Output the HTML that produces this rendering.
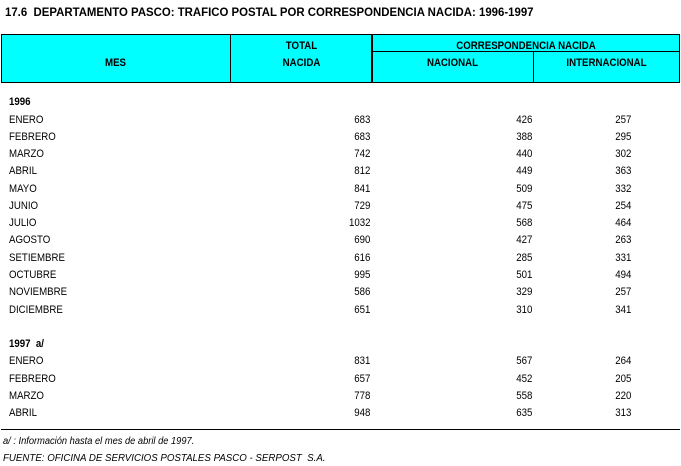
<!DOCTYPE html>
<html><head><meta charset="utf-8"><style>
body{margin:0;width:681px;height:465px;background:#fff;position:relative;overflow:hidden;font-family:"Liberation Sans",Arial,sans-serif;color:#000}
.t{position:absolute;white-space:nowrap;font-size:11px;line-height:14px;transform:scaleX(.88);transform-origin:left center}
.r{transform-origin:right center}
.c{transform-origin:center center}
.b{font-weight:bold}
.i{font-style:italic;font-size:10px}
.ln{position:absolute;background:#000}
</style></head><body>
<div class="t b" style="left:5px;top:5px;font-size:12px;transform:scaleX(.95)">17.6&nbsp; DEPARTAMENTO PASCO: TRAFICO POSTAL POR CORRESPONDENCIA NACIDA: 1996-1997</div>
<div style="position:absolute;left:1px;top:34px;width:677px;height:47px;background:#00ffff;border:1px solid #000"></div>
<div class="ln" style="left:230px;top:34px;width:1px;height:49px"></div>
<div class="ln" style="left:371px;top:34px;width:2px;height:49px"></div>
<div class="ln" style="left:533px;top:51px;width:1px;height:32px"></div>
<div class="ln" style="left:372px;top:51px;width:308px;height:1px"></div>
<div class="t b c" style="left:0;width:231px;text-align:center;top:56px">MES</div>
<div class="t b c" style="left:231px;width:141px;text-align:center;top:39px">TOTAL</div>
<div class="t b c" style="left:231px;width:141px;text-align:center;top:56px">NACIDA</div>
<div class="t b c" style="left:372px;width:308px;text-align:center;top:39px">CORRESPONDENCIA NACIDA</div>
<div class="t b c" style="left:372px;width:161px;text-align:center;top:56px">NACIONAL</div>
<div class="t b c" style="left:533px;width:147px;text-align:center;top:56px">INTERNACIONAL</div>
<div id="rows"></div>
<div class="ln" style="left:1px;top:429px;width:679px;height:1px"></div>
<div class="t i" style="left:3px;top:435px;transform:scaleX(.93)">a/ : Información hasta el mes de abril de 1997.</div>
<div class="t i" style="left:3px;top:452px;transform:scaleX(.97)">FUENTE: OFICINA DE SERVICIOS POSTALES PASCO - SERPOST&nbsp; S.A.</div>
<script>
var d=[[102,"1996"],[120,"ENERO",683,426,257],[137,"FEBRERO",683,388,295],[154,"MARZO",742,440,302],[171,"ABRIL",812,449,363],[189,"MAYO",841,509,332],[206,"JUNIO",729,475,254],[223,"JULIO",1032,568,464],[240,"AGOSTO",690,427,263],[258,"SETIEMBRE",616,285,331],[275,"OCTUBRE",995,501,494],[292,"NOVIEMBRE",586,329,257],[310,"DICIEMBRE",651,310,341],[344,"1997&nbsp; a/"],[361,"ENERO",831,567,264],[379,"FEBRERO",657,452,205],[396,"MARZO",778,558,220],[413,"ABRIL",948,635,313]];
var h="";d.forEach(function(r){var y=r[0]-7;
if(r.length==2){h+='<div class="t b" style="left:9px;top:'+y+'px">'+r[1]+'</div>';return;}
h+='<div class="t" style="left:9px;top:'+y+'px">'+r[1]+'</div>';
[[370,r[2]],[532,r[3]],[631,r[4]]].forEach(function(c){h+='<div class="t r" style="right:'+(681-c[0])+'px;top:'+y+'px">'+c[1]+'</div>';});});
document.getElementById("rows").innerHTML=h;
</script>
</body></html>
